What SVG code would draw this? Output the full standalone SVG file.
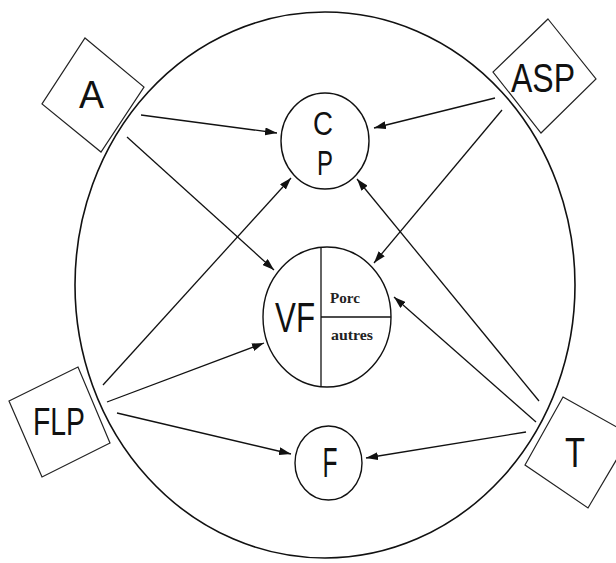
<svg xmlns="http://www.w3.org/2000/svg" width="616" height="563" viewBox="0 0 616 563">
<defs>
<style>
.outline{fill:none;stroke:#111;stroke-width:1.6}
.node{fill:#fff;stroke:#111;stroke-width:1.4}
.box{fill:#fff;stroke:#222;stroke-width:1.2}
.lbl{font-family:"Liberation Sans","DejaVu Sans",sans-serif;fill:#111;text-anchor:middle}
.small{font-family:"Liberation Serif","Times New Roman",serif;font-weight:bold;fill:#222;font-size:15px}
.conn{stroke:#111;stroke-width:1.3;fill:none;marker-end:url(#arr)}
</style>
<marker id="arr" markerUnits="userSpaceOnUse" markerWidth="12" markerHeight="8" refX="12" refY="4" orient="auto">
<path d="M0,0 L12,4 L0,8 z" fill="#111"/>
</marker>
</defs>
<rect width="616" height="563" fill="#fff"/>
<ellipse id="system" class="outline" cx="325" cy="285" rx="250" ry="273"/>

<g id="connectors">
<line class="conn" x1="141" y1="115" x2="277" y2="133"/>
<line class="conn" x1="127" y1="137" x2="274" y2="270"/>
<line class="conn" x1="495" y1="98" x2="374" y2="128"/>
<line class="conn" x1="502" y1="110" x2="374" y2="263"/>
<line class="conn" x1="103" y1="385" x2="291" y2="178"/>
<line class="conn" x1="107" y1="402" x2="264" y2="343"/>
<line class="conn" x1="117" y1="413" x2="291" y2="454"/>
<line class="conn" x1="539" y1="401" x2="357" y2="179"/>
<line class="conn" x1="536" y1="422" x2="394" y2="297"/>
<line class="conn" x1="526" y1="432" x2="366" y2="458"/>
</g>

<g id="node-CP">
<ellipse class="node" cx="325" cy="141" rx="44" ry="48"/>
<text class="lbl" x="323" y="135" font-size="33" textLength="20" lengthAdjust="spacingAndGlyphs">C</text>
<text class="lbl" x="325" y="175" font-size="35" textLength="16" lengthAdjust="spacingAndGlyphs">P</text>
</g>

<g id="node-VF">
<ellipse class="node" cx="327" cy="317" rx="64" ry="70"/>
<line x1="321" y1="247" x2="321" y2="387" stroke="#111" stroke-width="1.3"/>
<line x1="321" y1="317" x2="391" y2="317" stroke="#111" stroke-width="1.3"/>
<text class="lbl" x="295" y="332" font-size="42" textLength="40" lengthAdjust="spacingAndGlyphs">VF</text>
<text class="small" x="330" y="303" textLength="30" lengthAdjust="spacingAndGlyphs">Porc</text>
<text class="small" x="331" y="340" textLength="42" lengthAdjust="spacingAndGlyphs">autres</text>
</g>

<g id="node-F">
<ellipse class="node" cx="328.5" cy="463" rx="33.5" ry="37"/>
<text class="lbl" x="330" y="477" font-size="42" textLength="15" lengthAdjust="spacingAndGlyphs">F</text>
</g>

<g id="node-A">
<polygon class="box" points="85,38 144,87 101,152 42,104"/>
<text class="lbl" x="91.5" y="108" font-size="39" textLength="25" lengthAdjust="spacingAndGlyphs">A</text>
</g>

<g id="node-ASP">
<polygon class="box" points="548,19 596,79 541,133 493,72"/>
<text class="lbl" x="543" y="92" font-size="40" textLength="64" lengthAdjust="spacingAndGlyphs">ASP</text>
</g>

<g id="node-FLP">
<polygon class="box" points="9,401 78,367 110,443 42,477"/>
<text class="lbl" x="59" y="435" font-size="39" textLength="52" lengthAdjust="spacingAndGlyphs">FLP</text>
</g>

<g id="node-T">
<polygon class="box" points="563,397 631,435 588,508 525,465"/>
<text class="lbl" x="575" y="467" font-size="42" textLength="20" lengthAdjust="spacingAndGlyphs">T</text>
</g>
</svg>
